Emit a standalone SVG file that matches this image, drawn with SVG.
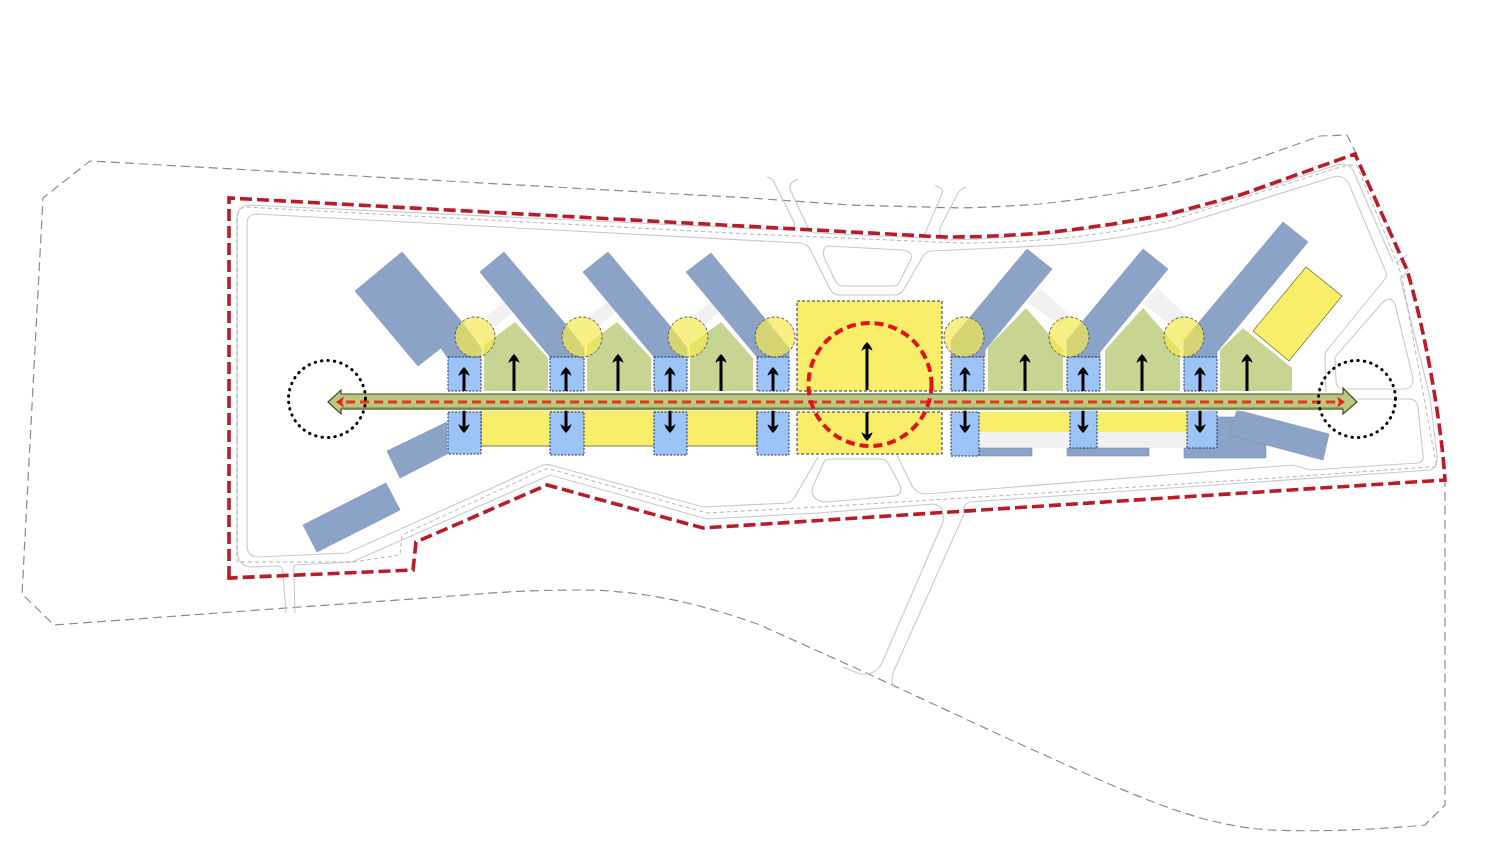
<svg xmlns="http://www.w3.org/2000/svg" width="1500" height="845" viewBox="0 0 1500 845">
<defs>
<marker id="ah" markerUnits="userSpaceOnUse" markerWidth="14" markerHeight="14" refX="5" refY="7" orient="auto" viewBox="0 0 14 14"><path d="M10,7 C7,4 4,2 1,1.5 C3,4 3.5,5.5 3.5,7 C3.5,8.5 3,10 1,12.5 C4,12 7,10 10,7Z" fill="#000"/></marker>
<marker id="rh" markerUnits="userSpaceOnUse" markerWidth="12" markerHeight="14" refX="3" refY="7" orient="auto" viewBox="0 0 12 14"><path d="M10,7 L2,1.5 L4,7 L2,12.5Z" fill="#f01c10"/></marker>
</defs>
<style>
.road{fill:none;stroke:#c9c9c9;stroke-width:1.1}
.rdash{fill:none;stroke:#b4b4b4;stroke-width:1;stroke-dasharray:4 3}
.site{fill:none;stroke:#8a8a8a;stroke-width:1.2;stroke-dasharray:9 5}
.red{fill:none;stroke:#b81c26;stroke-width:3.6;stroke-dasharray:12 5}
.b{fill:#8ba3c7;stroke:#7c8fae;stroke-width:.6}
.g{fill:#c8d592}
.s{fill:#f1f1f1}
.y{fill:#f9ee69}
.ye{fill:#f9ee69;stroke:#7d7a3a;stroke-width:1}
.sq{fill:#f9ee69;stroke:#333;stroke-width:1;stroke-dasharray:3 2}
.bx{fill:#9cc4f7;stroke:#1f2f4a;stroke-width:1;stroke-dasharray:2 1.5}
.c{fill:#f5ea50;fill-opacity:.7;stroke:#555;stroke-width:1;stroke-dasharray:3 2}
.a{stroke:#000;stroke-width:3;fill:none;marker-end:url(#ah)}
.dot{fill:none;stroke:#000;stroke-width:3;stroke-linecap:round;stroke-dasharray:.5 6}
</style>
<rect width="1500" height="845" fill="#fff"/>
<g id="site-boundary"><path class="site" d="M1357,155 L1347,135 L1320,136 L1253,160 Q1210,174 1173,183 Q1140,190 1107,195 Q1070,201 1040,204 Q1000,207 960,208 L850,205 L750,198 L90,161 L43,198 L22,594 L54,625 L300,607 L440,597 C500,592 530,590 580,590 C640,590 700,603 760,625 L860,670 L1000,735 L1100,780 C1160,806 1210,826 1270,830 C1320,832 1370,830 1425,825 L1445,805 L1445,480"/></g>
<g id="roads">
<path class="road" d="M1326,393 L1325,357 Q1325,352 1328,349 L1385,279 Q1388,275 1385,270 L1349,184 Q1343,174 1333,177 L1173,227 Q1100,243 1040,246 L932,251 Q925,251 922,258 L904,289 Q901,295 893,295 L840,295 Q833,295 830,289 L811,251 Q808,244 800,243 L256,214 Q247,214 247,224 L247,545 Q247,557 258,557 L347,553 L543,465 Q548,464 554,466 L703,507 L787,503 Q793,502 797,493 L818,457 M897,455 L912,486 Q917,494 926,494 L1267,467 L1293,465 L1310,470 L1418,463 Q1424,462 1423,455 L1418,407 Q1417,399 1409,399 L1357,399"/>
<path class="road" d="M1335,357 L1383,302 Q1390,295 1395,304 L1413,378 Q1414,389 1403,389 L1345,389 Q1336,389 1336,381 Z"/>
<path class="road" d="M828,246 L902,250 Q913,251 911,259 L899,283 Q897,286 892,286 L842,286 Q837,285 835,280 L824,257 Q822,247 828,246 Z"/>
<path class="road" d="M825,460 Q829,459 834,459 L880,459 Q886,459 888,463 L900,485 Q903,495 895,496 L827,502 Q811,501 812,489 Q820,470 825,460 Z"/>
<path class="road" d="M237,440 L237,220 Q237,205 250,205 L788,230 Q795,230 794,222 L773,180 Q770,177 767,177"/>
<path class="road" d="M798,179 Q789,182 790,189 L808,228 Q811,233 818,233 L923,238 L942,194 Q945,188 935,186"/>
<path class="road" d="M967,187 Q961,188 958,193 L940,228 Q938,238 947,240 L980,239 Q1100,233 1207,207 L1337,165 Q1348,162 1353,170 L1393,262"/>
<path class="road" d="M1400,277 L1430,397 L1437,455 Q1438,468 1430,470 L970,502 Q962,504 964,514 L893,673 Q890,682 895,688"/>
<path class="road" d="M843,667 L860,674 Q875,676 882,663 L943,522 Q945,505 933,504 L818,513 L707,519 L550,475 L352,562 L295,565 Q293,567 294,572 L295,613"/>
<path class="road" d="M286,613 L283,572 Q283,566 278,566 L250,567 Q237,565 237,550 L237,440"/>
<path class="road" d="M1396,263 L1407,255 M1402,278 L1410,267"/>
<path class="rdash" d="M237,440 L237,562 L353,562 L400,555 L402,535 L545,469 L550,469 L707,513 L818,507 L980,497 L1290,477 L1428,467 L1437,467 L1433,447 L1402,277 L1398,265 L1357,166 L1350,165 L1337,168 L1173,220 Q1100,236 1040,240 Q1000,243 960,243 L750,234 L245,207 Q237,208 237,222 L237,440"/>
</g>
<g id="boundary-red"><path class="red" d="M229,578 L229,198 L925,236 Q960,239 1043,233 Q1110,226 1173,213 L1240,195 L1355,154 L1407,270 C1425,330 1441,420 1445,480 L703,528 L547,485 L416,542 L413,570 Z"/></g>
<g id="strips">
<path class="s" d="M485,317 L505,302 L513,312 L495,327Z"/><path class="s" d="M588,317 L608,302 L616,312 L598,327Z"/><path class="s" d="M692,317 L711,302 L719,312 L702,327Z"/>
<path class="s" d="M1027,303 L1040,288 L1072,317 L1060,325Z"/><path class="s" d="M1143,303 L1157,288 L1188,317 L1170,325Z"/>
<rect class="s" x="980" y="432" width="92" height="16"/><rect class="s" x="1097" y="432" width="90" height="16"/>
</g>
<g id="blocks-blue">
<path class="b" d="M402,252 L462,322 L481,348 L481,357 L447,357 L441,348 L418,366 L355,291Z"/>
<path class="b" d="M504,252 L567,326 L584,348 L584,357 L550,357 L480,272Z"/>
<path class="b" d="M608,252 L670,326 L687,348 L687,357 L654,357 L583,272Z"/>
<path class="b" d="M711,253 L771,326 L789,348 L789,357 L757,357 L686,272Z"/>
<path class="b" d="M1027,249 L1052,269 L985,350 L985,357 L951,357 L951,340Z"/>
<path class="b" d="M1143,249 L1168,269 L1100,352 L1100,357 L1067,357 L1067,340Z"/>
<path class="b" d="M1283,222 L1308,242 L1217,352 L1217,357 L1184,357 L1184,340Z"/>
<path class="b" d="M447,422 L387,451 L400,478 L447,454Z"/>
<path class="b" d="M386,483 L400,510 L317,552 L303,525Z"/>
<rect class="b" x="979" y="448" width="53" height="8"/>
<rect class="b" x="1067" y="448" width="82" height="8"/>
<path class="b" d="M1184,448 L1215,448 L1215,417 L1235,417 L1266,440 L1266,458 L1184,458Z"/>
<path class="b" d="M1237,410 L1329,434 L1323,460 L1229,435Z"/>
</g>
<g id="blocks-green">
<path class="g" d="M484,391 L484,345 L515,322 L548,358 L548,391Z"/>
<path class="g" d="M587,391 L587,345 L617,322 L651,358 L651,391Z"/>
<path class="g" d="M690,391 L690,345 L721,322 L753,358 L753,391Z"/>
<path class="g" d="M988,391 L988,347 L1026,308 L1063,350 L1063,391Z"/>
<path class="g" d="M1105,391 L1105,350 L1143,308 L1180,350 L1180,391Z"/>
<path class="g" d="M1220,391 L1220,350 L1243,328 L1292,368 L1292,391Z"/>
</g>
<g id="blocks-yellow">
<rect class="ye" x="481" y="410" width="276" height="36"/>
<rect class="y" x="979" y="412" width="92" height="20"/>
<rect class="y" x="1097" y="412" width="90" height="20"/>
<path class="ye" d="M1306,267 L1342,296 L1289,361 L1253,331Z"/>
</g>
<g id="central-square">
<rect class="sq" x="797" y="301" width="145" height="90"/>
<rect class="sq" x="797" y="412" width="145" height="42"/>
</g>
<g id="entries">
<rect class="bx" x="448" y="357" width="33" height="34"/><rect class="bx" x="550" y="357" width="34" height="34"/><rect class="bx" x="654" y="357" width="33" height="34"/><rect class="bx" x="757" y="357" width="32" height="34"/><rect class="bx" x="951" y="357" width="33" height="34"/><rect class="bx" x="1067" y="357" width="33" height="34"/><rect class="bx" x="1184" y="357" width="33" height="34"/>
<rect class="bx" x="448" y="412" width="33" height="42"/><rect class="bx" x="550" y="412" width="34" height="43"/><rect class="bx" x="654" y="412" width="33" height="43"/><rect class="bx" x="757" y="412" width="32" height="43"/><rect class="bx" x="951" y="412" width="28" height="44"/><rect class="bx" x="1070" y="410" width="27" height="38"/><rect class="bx" x="1187" y="410" width="30" height="38"/>
</g>
<g id="nodes-circles">
<circle class="c" cx="475" cy="337" r="20"/><circle class="c" cx="582" cy="337" r="20"/><circle class="c" cx="688" cy="337" r="20"/><circle class="c" cx="775" cy="337" r="20"/><circle class="c" cx="964" cy="337" r="20"/><circle class="c" cx="1069" cy="337" r="20"/><circle class="c" cx="1184" cy="337" r="20"/>
</g>
<g id="arrows">
<line class="a" x1="464" y1="391" x2="464" y2="372"/><line class="a" x1="566" y1="391" x2="566" y2="372"/><line class="a" x1="670" y1="391" x2="670" y2="372"/><line class="a" x1="773" y1="391" x2="773" y2="372"/><line class="a" x1="965" y1="391" x2="965" y2="372"/><line class="a" x1="1083" y1="391" x2="1083" y2="372"/><line class="a" x1="1200" y1="391" x2="1200" y2="372"/>
<line class="a" x1="464" y1="408" x2="464" y2="428"/><line class="a" x1="566" y1="408" x2="566" y2="428"/><line class="a" x1="670" y1="408" x2="670" y2="428"/><line class="a" x1="773" y1="408" x2="773" y2="428"/><line class="a" x1="965" y1="408" x2="965" y2="428"/><line class="a" x1="1083" y1="408" x2="1083" y2="428"/><line class="a" x1="1200" y1="408" x2="1200" y2="428"/>
<line class="a" x1="514" y1="391" x2="514" y2="359"/><line class="a" x1="618" y1="391" x2="618" y2="359"/><line class="a" x1="721" y1="391" x2="721" y2="359"/><line class="a" x1="1025" y1="391" x2="1025" y2="359"/><line class="a" x1="1142" y1="391" x2="1142" y2="359"/><line class="a" x1="1247" y1="391" x2="1247" y2="359"/>
<line class="a" x1="867" y1="390" x2="867" y2="347"/><line class="a" x1="867" y1="412" x2="867" y2="436"/>
</g>
<g id="axis">
<path d="M341,394 L341,390 L328,402 L341,414 L341,409 L1343,409 L1343,414 L1357,402 L1343,388 L1343,394 Z" fill="#b9c981" stroke="#fff" stroke-width="3.5"/>
<path d="M341,394 L341,390 L328,402 L341,414 L341,409 L1343,409 L1343,414 L1357,402 L1343,388 L1343,394 Z" fill="#b9c981" stroke="#3d4a22" stroke-width="1.2"/>
<line x1="341" y1="408.5" x2="1343" y2="408.5" stroke="#76824a" stroke-width="2"/>
<line x1="346" y1="402" x2="1338" y2="402" stroke="#dd3a1c" stroke-width="3" stroke-dasharray="9 5" marker-end="url(#rh)"/>
<line x1="1338" y1="402" x2="343" y2="402" stroke="none" stroke-width="3" marker-end="url(#rh)"/>
</g>
<g id="focus-circles">
<circle class="dot" cx="327" cy="399" r="38.5"/>
<circle class="dot" cx="1357" cy="399" r="38.5"/>
<circle cx="870" cy="384.5" r="61.5" fill="none" stroke="#e0141a" stroke-width="4" stroke-dasharray="9 5"/>
</g>
</svg>
